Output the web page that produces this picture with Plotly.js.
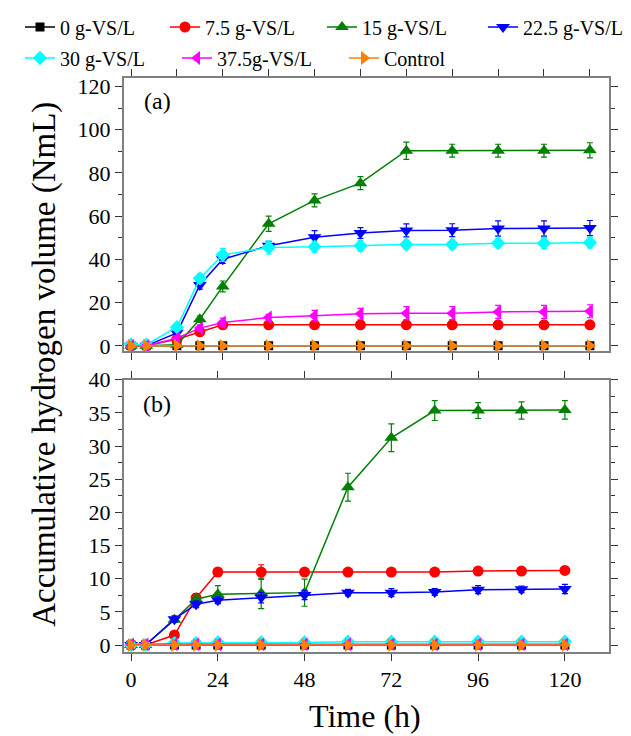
<!DOCTYPE html>
<html>
<head>
<meta charset="utf-8">
<script src="https://cdn.plot.ly/plotly-3.0.1.min.js"></script>
<style>html,body{margin:0;padding:0;background:#fff;}#chart{width:631px;height:736px;}</style>
</head>
<body>
<div id="chart"></div>
<script>
// ---- data ----
const time = [0, 4, 12, 18, 24, 36, 48, 60, 72, 84, 96, 108, 120];
const seriesNames = ["0 g-VS/L", "7.5 g-VS/L", "15 g-VS/L", "22.5 g-VS/L", "30 g-VS/L", "37.5g-VS/L", "Control"];

// panel (a)
const a0    = [0, 0, 0, 0, 0, 0, 0, 0, 0, 0, 0, 0, 0];
const a7_5  = [0, 0, 3, 6.5, 9.7, 9.7, 9.7, 9.7, 9.7, 9.7, 9.7, 9.7, 9.7];
const a15   = [0, 0, 0.5, 12.3, 27.5, 56.5, 67.3, 75.3, 90.3, 90.3, 90.3, 90.3, 90.5];
const a22_5 = [0, 0, 6, 28.2, 40.1, 46.3, 50.3, 52.2, 53.4, 53.5, 54.3, 54.3, 54.5];
const a30   = [0.5, 0.5, 8.6, 31.2, 42.1, 45.5, 45.8, 46.3, 46.9, 46.9, 47.5, 47.5, 47.8];
const a37_5 = [0, 0, 3.5, 8.2, 10.8, 13.1, 13.9, 14.8, 15.1, 15.1, 15.7, 15.7, 16.0];
const aCtl  = [0, 0, 0, 0, 0, 0, 0, 0, 0, 0, 0, 0, 0];
const aErr0    = [0, 0, 0, 0, 0, 0, 0, 0, 0, 0, 0, 0, 0];
const aErr7_5  = [0, 0, 0.5, 0.8, 0.8, 0.5, 0.5, 0.5, 0.5, 0.5, 0.5, 0.5, 0.5];
const aErr15   = [0, 0, 0.5, 1.5, 2.5, 3.5, 3, 3, 4, 3, 3, 3, 3.5];
const aErr22_5 = [0.5, 0.5, 1.5, 2, 2, 2, 3, 2.5, 3, 3, 3.5, 3.5, 3.5];
const aErr30   = [0.5, 0.5, 1.5, 2, 3, 3, 2.5, 2.5, 2, 2, 2, 2.5, 2.5];
const aErr37_5 = [0.3, 0.3, 1, 1.5, 2, 1.5, 2.5, 2.5, 3, 3, 3, 3, 3];
const aErrCtl  = [0, 0, 0, 0, 0, 0, 0, 0, 0, 0, 0, 0, 0];

// panel (b)
const b0    = [0, 0, 0, 0, 0, 0, 0, 0, 0, 0, 0, 0, 0];
const b7_5  = [0, 0, 1.5, 7.1, 11.0, 11.0, 11.0, 11.0, 11.0, 11.0, 11.15, 11.15, 11.25];
const b15   = [0, 0, 3.8, 6.9, 7.65, 7.8, 7.9, 23.8, 31.25, 35.35, 35.35, 35.35, 35.45];
const b22_5 = [0, 0, 3.9, 6.15, 6.75, 7.15, 7.55, 7.9, 7.9, 8.0, 8.35, 8.4, 8.45];
const b30   = [0, 0, 0.3, 0.3, 0.4, 0.4, 0.4, 0.5, 0.5, 0.5, 0.5, 0.5, 0.5];
const b37_5 = [0.1, 0.1, 0.1, 0.1, 0.1, 0.1, 0.1, 0.1, 0.1, 0.1, 0.1, 0.1, 0.1];
const bCtl  = [0, 0, 0, 0, 0, 0, 0, 0, 0, 0, 0, 0, 0];
const bErr0    = [0, 0, 0, 0, 0, 0, 0, 0, 0, 0, 0, 0, 0];
const bErr7_5  = [0, 0, 0.3, 0.6, 0.6, 1.1, 0.4, 0.3, 0.3, 0.3, 0.3, 0.3, 0.3];
const bErr15   = [0, 0, 0.3, 0.8, 1.3, 2.3, 2.05, 2.1, 2.1, 1.5, 1.2, 1.3, 1.4];
const bErr22_5 = [0, 0, 0.5, 0.5, 0.5, 0.8, 0.7, 0.5, 0.6, 0.5, 0.6, 0.5, 0.7];
const bErr30   = [0, 0, 0.3, 0.3, 0.3, 0.3, 0.3, 0.3, 0.3, 0.3, 0.3, 0.3, 0.3];
const bErr37_5 = [0.2, 0.2, 0.2, 0.2, 0.2, 0.2, 0.2, 0.2, 0.2, 0.2, 0.2, 0.2, 0.2];
const bErrCtl  = [0, 0, 0, 0, 0, 0, 0, 0, 0, 0, 0, 0, 0];

const xTicks = [0, 24, 48, 72, 96, 120];

// ---- styling ----
const colors  = ["#000000", "#ff0000", "#008000", "#0000ff", "#00ffff", "#ff00ff", "#ff8000"];
const symbols = ["square", "circle", "triangle-up", "triangle-down", "diamond", "triangle-left", "triangle-right"];
const sizes   = [9, 11, 12, 12, 11, 12, 12];

const aData = [a0, a7_5, a15, a22_5, a30, a37_5, aCtl];
const aErr  = [aErr0, aErr7_5, aErr15, aErr22_5, aErr30, aErr37_5, aErrCtl];
const bData = [b0, b7_5, b15, b22_5, b30, b37_5, bCtl];
const bErr  = [bErr0, bErr7_5, bErr15, bErr22_5, bErr30, bErr37_5, bErrCtl];

const legendKeys = ["legend", "legend2", "legend3", "legend4", "legend5", "legend6", "legend7"];

const traces = [];
for (let i = 0; i < 7; i++) {
  traces.push({
    x: time, y: aData[i], xaxis: "x2", yaxis: "y2", type: "scatter", mode: "lines+markers",
    name: seriesNames[i], legend: legendKeys[i], showlegend: true,
    line: {color: colors[i], width: 1.5},
    marker: {color: colors[i], symbol: symbols[i], size: sizes[i]},
    error_y: {type: "data", array: aErr[i], visible: true, color: colors[i], thickness: 1.2, width: 3}
  });
}
for (let i = 0; i < 7; i++) {
  traces.push({
    x: time, y: bData[i], xaxis: "x", yaxis: "y", type: "scatter", mode: "lines+markers",
    name: seriesNames[i], showlegend: false,
    line: {color: colors[i], width: 1.5},
    marker: {color: colors[i], symbol: symbols[i], size: sizes[i]},
    error_y: {type: "data", array: bErr[i], visible: true, color: colors[i], thickness: 1.2, width: 3}
  });
}

const FONT = "Liberation Serif";
const W = 485, H = 576, L = 124, B = 84;
const px2x = p => (p - L) / W;
const py2y = p => (736 - B - p) / H;

const axisCommon = {
  showline: true, linecolor: "#808080", linewidth: 2, mirror: "ticks",
  ticks: "outside", ticklen: 7, tickwidth: 1, tickcolor: "#333333",
  showgrid: false, zeroline: false, automargin: false,
  tickfont: {family: FONT, size: 22, color: "#000"}
};

const legendRow1 = 27, legendRow2 = 58;
const legendTextX = [62, 207, 364, 525, 62, 219, 386];
const legendRows = [legendRow1, legendRow1, legendRow1, legendRow1, legendRow2, legendRow2, legendRow2];

const layout = {
  width: 631, height: 736,
  margin: {l: L, r: 22, t: 76, b: B},
  paper_bgcolor: "#fff", plot_bgcolor: "#fff",
  font: {family: FONT, color: "#000"},
  xaxis: Object.assign({}, axisCommon, {
    domain: [0, 1], anchor: "y", range: [-1.94, 132.2],
    tickvals: xTicks
  }),
  yaxis: Object.assign({}, axisCommon, {
    domain: [0, 273 / 576], anchor: "x", range: [-1.05, 40], dtick: 5, tick0: 0,
    minor: {dtick: 2.5, ticks: "outside", ticklen: 4, tickcolor: "#333333"}
  }),
  xaxis2: Object.assign({}, axisCommon, {
    domain: [0, 1], anchor: "y2", range: [-1.83, 125], dtick: 12, tick0: 0,
    showticklabels: false
  }),
  yaxis2: Object.assign({}, axisCommon, {
    domain: [302 / 576, 1], anchor: "x2", range: [-2.3, 124.2], dtick: 20, tick0: 0,
    minor: {dtick: 10, ticks: "outside", ticklen: 4, tickcolor: "#333333"}
  }),
  annotations: [
    {text: "Accumulative hydrogen volume (NmL)", textangle: -90, xref: "paper", yref: "paper",
     x: px2x(45), y: py2y(364), xanchor: "center", yanchor: "middle", showarrow: false,
     font: {family: FONT, size: 33, color: "#000"}},
    {text: "Time (h)", xref: "paper", yref: "paper",
     x: px2x(365), y: py2y(716), xanchor: "center", yanchor: "middle", showarrow: false,
     font: {family: FONT, size: 32, color: "#000"}},
    {text: "(a)", xref: "paper", yref: "paper", x: px2x(157), y: py2y(100),
     xanchor: "center", yanchor: "middle", showarrow: false, font: {family: FONT, size: 24, color: "#000"}},
    {text: "(b)", xref: "paper", yref: "paper", x: px2x(157), y: py2y(403),
     xanchor: "center", yanchor: "middle", showarrow: false, font: {family: FONT, size: 24, color: "#000"}}
  ]
};

for (let i = 0; i < 7; i++) {
  layout[legendKeys[i]] = {
    xref: "container", yref: "container",
    x: (legendTextX[i] - 42) / 631, y: 1 - legendRows[i] / 736,
    xanchor: "left", yanchor: "middle",
    bgcolor: "rgba(0,0,0,0)", borderwidth: 0,
    font: {family: FONT, size: 20, color: "#000"},
    orientation: "h"
  };
}

Plotly.newPlot("chart", traces, layout, {displayModeBar: false, staticPlot: true});
</script>
</body>
</html>
